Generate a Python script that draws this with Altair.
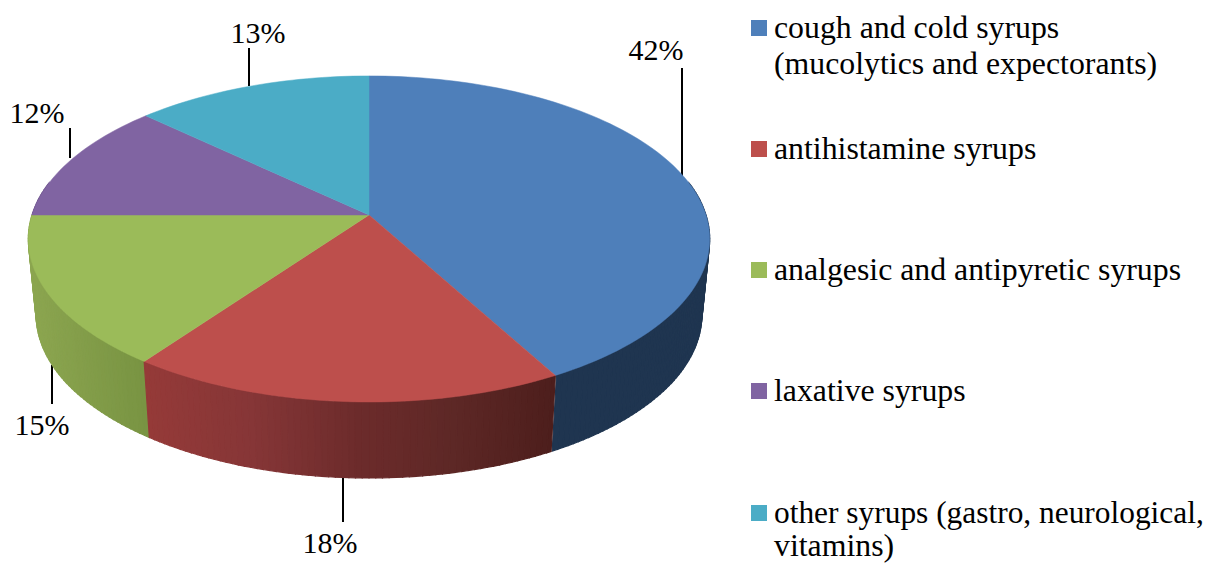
import math
import altair as alt

# ---- data ----
categories = ["cough and cold syrups", "antihistamine syrups", "analgesic and antipyretic syrups",
              "laxative syrups", "other syrups"]
shares = [42, 18, 15, 12, 13]
face_colors = ["#4e7fba", "#bd4f4c", "#9bbb59", "#8064a2", "#4bacc6"]
legend_lines = [
    ["cough and cold syrups", "(mucolytics and expectorants)"],
    ["antihistamine syrups"],
    ["analgesic and antipyretic syrups"],
    ["laxative syrups"],
    ["other syrups (gastro, neurological,", "vitamins)"],
]
legend_box_y = [28, 149, 270, 391, 513]
legend_line_base = [[38, 74], [159], [280], [401], [523, 556]]
legend_box_x = 759
legend_text_x = 774
label_text = ["42%", "18%", "15%", "12%", "13%"]
label_x = [656, 330, 42, 37, 258]
label_base = [60, 553, 435, 123, 43]
leader_x = [682, 343, 52, 70, 249]
leader_y1 = [68, 477, 365, 128, 48]
leader_y2 = [177, 522, 404, 158, 86]
# wall shading stops: (image x, r, g, b) per slice
wall_stops = {
    0: [(553, 0x1f, 0x35, 0x50), (710, 0x1f, 0x35, 0x50)],
    1: [(145, 0x95, 0x3a, 0x38), (250, 0x86, 0x36, 0x37), (360, 0x6c, 0x2b, 0x2b),
        (450, 0x5e, 0x28, 0x26), (555, 0x4d, 0x1e, 0x1c)],
    2: [(28, 0x8c, 0xa6, 0x50), (148, 0x78, 0x93, 0x42)],
    3: [(28, 0x6a, 0x52, 0x88), (148, 0x6a, 0x52, 0x88)],
}
CX, CY, A, B, K = 369.0, 215.0, 337.0, 159.5, 0.147
DEPTH, SHRINK = 76.0, 0.977
FONT = "'Liberation Serif', 'Times New Roman', serif"
FS = 31.8
LABEL_FS = 30


def project(theta_deg, lower=False):
    t = math.radians(theta_deg)
    u, v = math.sin(t), -math.cos(t)
    w = 1 - K * v
    x = A * u / w
    y = B * v / w
    if lower:
        return [CX + x * SHRINK, CY + y + DEPTH]
    return [CX + x, CY + y]


def wall_color(i, x):
    stops = wall_stops[i]
    if x <= stops[0][0]:
        s = stops[0]
        return "#%02x%02x%02x" % s[1:]
    for a, b in zip(stops, stops[1:]):
        if x <= b[0]:
            f = (x - a[0]) / (b[0] - a[0])
            return "#%02x%02x%02x" % tuple(round(a[j] + (b[j] - a[j]) * f) for j in (1, 2, 3))
    return "#%02x%02x%02x" % stops[-1][1:]


def feature(ring, color):
    return {"type": "Feature", "properties": {"c": color},
            "geometry": {"type": "Polygon", "coordinates": [ring + [ring[0]]]}}


edges = [0.0]
for s in shares:
    edges.append(edges[-1] + s * 3.6)

faces = []
for i, color in enumerate(face_colors):
    start, end = edges[i], edges[i + 1]
    n = max(2, int((end - start) / 1.5))
    ring = [[CX, CY]] + [project(start + (end - start) * k / n) for k in range(n + 1)]
    faces.append(feature(ring, color))

strips = []
STEP = 1.0
th = 78.0
while th < 282.0:
    mid = th + STEP / 2
    idx = next(j for j in range(len(shares)) if edges[j] <= mid < edges[j + 1])
    # keep strips inside their slice so seams land on the slice boundary
    a = max(th, edges[idx])
    b = min(th + STEP, edges[idx + 1])
    p1, p2 = project(a), project(b)
    p3, p4 = project(b, True), project(a, True)
    strips.append((abs(mid - 180), feature([p1, p2, p3, p4], wall_color(idx, (p1[0] + p2[0]) / 2))))
    th += STEP
# paint back to front, so the hidden back strips never show over the front ones
walls = [f for _, f in sorted(strips, key=lambda s: -s[0])]


def geo_data(features):
    return alt.InlineData(values={"type": "FeatureCollection", "features": features},
                          format=alt.DataFormat(property="features", type="json"))


def geo_layer(features, sw):
    return alt.Chart(geo_data(features)).mark_geoshape(strokeWidth=sw).encode(
        color=alt.Color("properties.c:N", scale=None),
        stroke=alt.Stroke("properties.c:N", scale=None),
    ).project(type="identity", scale=1, translate=[-8, -8])


xs = alt.Scale(domain=[8, 1206], range=[0, 1198], nice=False, zero=False)
ys = alt.Scale(domain=[8, 563], range=[0, 555], nice=False, zero=False)
X = lambda f: alt.X(f, type="quantitative", scale=xs, axis=None)
Y = lambda f: alt.Y(f, type="quantitative", scale=ys, axis=None)

leaders = alt.Chart(alt.Data(values=[
    {"x": a, "y": b, "y2": c} for a, b, c in zip(leader_x, leader_y1, leader_y2)
])).mark_rule(color="#000000", strokeWidth=2).encode(x=X("x"), y=Y("y"), y2="y2:Q")

labels = alt.Chart(alt.Data(values=[
    {"x": a, "y": b, "t": c} for a, b, c in zip(label_x, label_base, label_text)
])).mark_text(font=FONT, fontSize=LABEL_FS, color="#000000", align="center", baseline="alphabetic").encode(
    x=X("x"), y=Y("y"), text="t:N")

boxes = alt.Chart(alt.Data(values=[
    {"x": legend_box_x, "y": y, "c": c} for y, c in zip(legend_box_y, face_colors)
])).mark_square(size=256, opacity=1, filled=True).encode(
    x=X("x"), y=Y("y"), color=alt.Color("c:N", scale=None))

legend_rows = []
for lines, bases in zip(legend_lines, legend_line_base):
    for t, b in zip(lines, bases):
        legend_rows.append({"x": legend_text_x, "y": b, "t": t,
                            "fs": 31.4 if t.endswith(",") else FS})
legend_text = alt.Chart(alt.Data(values=legend_rows)).mark_text(
    font=FONT, color="#000000", align="left", baseline="alphabetic").encode(
    x=X("x"), y=Y("y"), text="t:N", size=alt.Size("fs:Q", scale=None))

chart = alt.layer(leaders, geo_layer(walls, 1.2), geo_layer(faces, 0.5), labels, boxes, legend_text).properties(
    width=1198, height=555, padding=0, autosize="none", background="#ffffff"
).configure_view(strokeWidth=0)

chart.save("out.html", embed_options={"renderer": "svg", "actions": False})
